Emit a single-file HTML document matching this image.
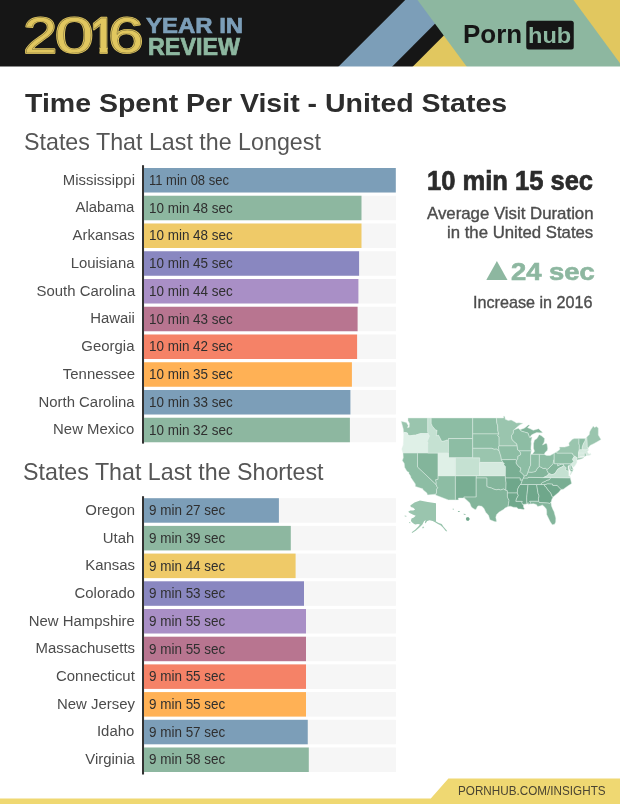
<!DOCTYPE html>
<html lang="en"><head><meta charset="utf-8"><title>Time Spent Per Visit - United States</title>
<style>
html,body{margin:0;padding:0;background:#fff;}
body{width:620px;height:804px;position:relative;overflow:hidden;font-family:"Liberation Sans",sans-serif;}
#bg{position:absolute;left:0;top:0;}
.t{position:absolute;white-space:nowrap;line-height:1;transform-origin:0 0;}
.lab{position:absolute;right:485.30px;line-height:1;font-size:15.3px;color:#4c4c4c;white-space:nowrap;text-align:right;transform-origin:100% 0;transform:scaleX(0.9750);}
.val{position:absolute;left:148.55px;line-height:1;font-size:14.2px;color:#2f2f2f;white-space:nowrap;transform-origin:0 0;transform:scaleX(0.9483);}
</style></head><body>
<svg id="bg" width="620" height="804" viewBox="0 0 620 804" >
<rect x="0" y="0" width="620" height="70" fill="#161616"/>
<polygon points="405.2,0 458.6,0 388.8,70 335.1,70" fill="#7c9eb8"/>
<polygon points="409.4,70 444.8,34.6 480,34.6 480,70" fill="#e1c75f"/>
<rect x="565" y="0" width="55" height="70" fill="#e1c75f"/>
<polygon points="417.5,0 573.5,0 620,63.2 620,70 469.2,70" fill="#8db7a0"/>
<rect x="0" y="66.5" width="620" height="5" fill="#fff"/>
<rect x="526.25" y="20.75" width="47.5" height="28.75" rx="2.5" fill="#161616"/>
<clipPath id="c1"><polygon points="0,-40 19.81,-40 19.81,1.10 10.19,1.10 10.19,-7.5 0,-7.5"/></clipPath>
<g font-family="Liberation Sans, sans-serif" font-size="50.0" fill="#e1c75f" stroke="#e1c75f" stroke-width="2.2" stroke-linejoin="round"><text transform="translate(23.25,53.00) scale(1.2217,1)" font-weight="normal" vector-effect="non-scaling-stroke">2</text><text transform="translate(54.69,53.00) scale(1.4042,1)" font-weight="normal" vector-effect="non-scaling-stroke">0</text><text transform="translate(91.06,53.00) scale(0.8400,1)" font-weight="bold" vector-effect="non-scaling-stroke" clip-path="url(#c1)">1</text><text transform="translate(108.23,53.00) scale(1.2696,1)" font-weight="normal" vector-effect="non-scaling-stroke">6</text></g>
<g font-family="Liberation Sans, sans-serif" font-size="50.0" fill="none" stroke="#161616" stroke-width="0.45" stroke-opacity="0.55" aria-hidden="true"><text transform="translate(23.25,53.00) scale(1.2217,1)" font-weight="normal" vector-effect="non-scaling-stroke">2</text><text transform="translate(54.69,53.00) scale(1.4042,1)" font-weight="normal" vector-effect="non-scaling-stroke">0</text><text transform="translate(91.06,53.00) scale(0.8400,1)" font-weight="bold" vector-effect="non-scaling-stroke" clip-path="url(#c1)">1</text><text transform="translate(108.23,53.00) scale(1.2696,1)" font-weight="normal" vector-effect="non-scaling-stroke">6</text></g>
<rect x="142" y="165.2" width="2.05" height="278.4" fill="#333"/>
<rect x="142" y="496.2" width="2.05" height="278.3" fill="#333"/>
<rect x="144.0" y="168.00" width="251.90" height="24.5" fill="#f6f6f6"/>
<rect x="144.0" y="168.00" width="251.80" height="24.5" fill="#7c9eb8"/>
<rect x="144.0" y="195.75" width="251.90" height="24.5" fill="#f6f6f6"/>
<rect x="144.0" y="195.75" width="217.50" height="24.5" fill="#8db7a0"/>
<rect x="144.0" y="223.50" width="251.90" height="24.5" fill="#f6f6f6"/>
<rect x="144.0" y="223.50" width="217.50" height="24.5" fill="#efca68"/>
<rect x="144.0" y="251.25" width="251.90" height="24.5" fill="#f6f6f6"/>
<rect x="144.0" y="251.25" width="215.10" height="24.5" fill="#8987c0"/>
<rect x="144.0" y="279.00" width="251.90" height="24.5" fill="#f6f6f6"/>
<rect x="144.0" y="279.00" width="214.40" height="24.5" fill="#a98fc6"/>
<rect x="144.0" y="306.75" width="251.90" height="24.5" fill="#f6f6f6"/>
<rect x="144.0" y="306.75" width="213.60" height="24.5" fill="#b87590"/>
<rect x="144.0" y="334.50" width="251.90" height="24.5" fill="#f6f6f6"/>
<rect x="144.0" y="334.50" width="213.10" height="24.5" fill="#f58267"/>
<rect x="144.0" y="362.25" width="251.90" height="24.5" fill="#f6f6f6"/>
<rect x="144.0" y="362.25" width="207.90" height="24.5" fill="#ffb155"/>
<rect x="144.0" y="390.00" width="251.90" height="24.5" fill="#f6f6f6"/>
<rect x="144.0" y="390.00" width="206.40" height="24.5" fill="#7c9eb8"/>
<rect x="144.0" y="417.75" width="251.90" height="24.5" fill="#f6f6f6"/>
<rect x="144.0" y="417.75" width="205.90" height="24.5" fill="#8db7a0"/>
<rect x="144.0" y="498.20" width="251.90" height="24.5" fill="#f6f6f6"/>
<rect x="144.0" y="498.20" width="134.90" height="24.5" fill="#7c9eb8"/>
<rect x="144.0" y="525.90" width="251.90" height="24.5" fill="#f6f6f6"/>
<rect x="144.0" y="525.90" width="146.80" height="24.5" fill="#8db7a0"/>
<rect x="144.0" y="553.60" width="251.90" height="24.5" fill="#f6f6f6"/>
<rect x="144.0" y="553.60" width="151.60" height="24.5" fill="#efca68"/>
<rect x="144.0" y="581.30" width="251.90" height="24.5" fill="#f6f6f6"/>
<rect x="144.0" y="581.30" width="160.00" height="24.5" fill="#8987c0"/>
<rect x="144.0" y="609.00" width="251.90" height="24.5" fill="#f6f6f6"/>
<rect x="144.0" y="609.00" width="162.00" height="24.5" fill="#a98fc6"/>
<rect x="144.0" y="636.70" width="251.90" height="24.5" fill="#f6f6f6"/>
<rect x="144.0" y="636.70" width="162.00" height="24.5" fill="#b87590"/>
<rect x="144.0" y="664.40" width="251.90" height="24.5" fill="#f6f6f6"/>
<rect x="144.0" y="664.40" width="162.00" height="24.5" fill="#f58267"/>
<rect x="144.0" y="692.10" width="251.90" height="24.5" fill="#f6f6f6"/>
<rect x="144.0" y="692.10" width="162.00" height="24.5" fill="#ffb155"/>
<rect x="144.0" y="719.80" width="251.90" height="24.5" fill="#f6f6f6"/>
<rect x="144.0" y="719.80" width="163.75" height="24.5" fill="#7c9eb8"/>
<rect x="144.0" y="747.50" width="251.90" height="24.5" fill="#f6f6f6"/>
<rect x="144.0" y="747.50" width="164.80" height="24.5" fill="#8db7a0"/>
<polygon points="486.3,280 496.9,260.9 507.5,280" fill="#8db7a0"/>
<polygon points="0,798.5 430.8,798.5 448.4,778.6 620,778.6 620,804 0,804" fill="#efd872"/>
<g stroke="#e4f1ea" stroke-width="0.45" stroke-linejoin="round">
<path d="M403.5,432.3L403.3,429.0L401.2,421.3L406.4,422.5L408.2,425.4L407.5,427.7L409.2,427.2L409.4,423.3L408.0,420.7L408.0,418.0L427.8,418.0L427.8,431.4L428.2,433.6L421.0,433.6L418.9,434.0L415.8,435.1L413.4,435.3L409.9,435.8L408.0,435.3L407.5,433.1L405.7,432.6Z" fill="#9ac5ae"/>
<path d="M403.5,432.3L405.7,432.6L407.5,433.1L408.0,435.3L409.9,435.8L413.4,435.3L415.8,435.1L418.9,434.0L421.0,433.6L428.2,433.6L429.5,436.1L428.4,438.8L427.1,441.8L428.1,442.5L427.8,444.2L427.8,453.1L403.0,453.1L401.8,449.1L403.3,445.0L403.5,440.6L403.8,434.1Z" fill="#dff0e7"/>
<path d="M403.0,453.1L417.5,453.1L417.5,466.9L436.1,484.5L437.1,486.9L437.8,487.7L436.6,489.2L436.5,493.0L435.8,494.2L427.5,494.9L426.9,493.0L423.0,489.8L422.7,488.7L420.3,488.1L415.4,486.4L415.3,483.9L410.9,477.6L410.6,476.1L408.9,473.6L408.9,472.3L407.1,471.4L404.7,467.4L404.2,463.3L402.3,460.6L403.3,457.8Z" fill="#8dbda4"/>
<path d="M417.5,453.1L438.1,453.1L438.1,479.3L435.7,479.8L436.2,482.4L436.1,484.5L417.5,466.9Z" fill="#83b59b"/>
<path d="M427.8,418.0L431.2,418.0L431.2,423.4L432.4,426.2L435.7,430.0L437.1,430.3L436.4,435.6L438.5,435.1L440.2,438.3L441.7,441.3L444.9,440.8L447.3,439.8L448.5,441.1L448.5,453.1L427.8,453.1L427.8,444.2L428.1,442.5L427.1,441.8L428.4,438.8L429.5,436.1L428.2,433.6L427.8,431.4Z" fill="#c5e1d2"/>
<path d="M431.2,418.0L472.7,418.0L472.7,438.6L448.5,438.6L448.5,441.1L447.3,439.8L444.9,440.8L441.7,441.3L440.2,438.3L438.5,435.1L436.4,435.6L437.1,430.3L435.7,430.0L432.4,426.2L431.2,423.4Z" fill="#8dbda4"/>
<path d="M448.5,438.6L472.7,438.6L472.7,457.8L448.5,457.8Z" fill="#8dbda4"/>
<path d="M438.1,453.1L448.5,453.1L448.5,457.8L455.4,457.8L455.4,475.9L438.1,475.9Z" fill="#dff0e7"/>
<path d="M455.4,457.8L479.7,457.8L479.7,475.9L455.4,475.9Z" fill="#c5e1d2"/>
<path d="M438.1,475.9L455.4,475.9L455.4,499.9L448.4,499.9L435.5,495.1L435.8,494.2L436.5,493.0L436.6,489.2L437.8,487.7L437.1,486.9L436.1,484.5L436.2,482.4L435.7,479.8L438.1,479.3Z" fill="#8dbda4"/>
<path d="M455.4,475.9L476.4,475.9L476.2,478.0L476.2,497.1L463.8,497.1L464.2,498.1L458.4,498.1L458.4,499.9L455.4,499.9Z" fill="#79ae93"/>
<path d="M472.7,418.0L496.4,418.0L496.8,422.8L497.7,425.9L497.8,430.5L498.7,433.9L472.7,433.9Z" fill="#8dbda4"/>
<path d="M472.7,433.9L498.7,433.9L497.7,435.6L499.1,437.1L499.1,445.9L498.5,446.9L499.1,450.7L498.2,450.3L496.5,449.1L494.0,449.3L492.0,448.3L472.7,448.3Z" fill="#8dbda4"/>
<path d="M472.7,448.3L492.0,448.3L494.0,449.3L496.5,449.1L498.2,450.3L499.1,450.7L500.3,454.5L501.0,456.9L501.4,459.7L503.0,462.4L479.7,462.4L479.7,457.8L472.7,457.8Z" fill="#9ac5ae"/>
<path d="M479.7,462.4L503.0,462.4L504.4,463.5L503.7,464.7L505.5,466.5L505.4,475.9L479.7,475.9Z" fill="#d5eadf"/>
<path d="M476.4,475.9L505.4,475.9L505.4,478.0L506.1,482.8L505.9,490.3L503.4,489.0L500.6,490.0L498.5,489.4L496.5,489.8L493.9,489.2L491.6,488.1L489.5,487.5L487.8,487.1L486.8,486.4L486.8,478.0L476.2,478.0Z" fill="#83b59b"/>
<path d="M476.2,478.0L486.8,478.0L486.8,486.4L487.8,487.1L489.5,487.5L491.6,488.1L493.9,489.2L496.5,489.8L498.5,489.4L500.6,490.0L503.4,489.0L505.9,490.3L507.4,490.7L507.4,493.0L507.4,497.1L509.1,500.4L508.6,503.3L508.1,506.5L505.1,508.0L503.4,509.6L499.2,512.0L496.6,514.5L495.8,517.3L496.6,521.4L495.1,521.8L492.6,520.8L489.9,519.7L488.5,515.3L485.7,512.2L484.0,508.6L481.9,506.3L478.8,505.8L477.4,506.5L476.0,509.4L475.0,509.4L472.9,508.2L471.2,506.8L469.8,502.9L464.6,498.2L463.8,497.1L476.2,497.1Z" fill="#83b59b"/>
<path d="M496.4,418.0L503.6,418.0L503.6,416.0L504.8,416.4L505.3,419.3L508.2,420.4L511.2,420.0L514.5,421.7L516.5,423.0L518.8,422.8L523.1,423.3L519.7,424.9L516.9,427.2L514.1,429.8L513.4,430.3L513.4,433.1L511.5,435.6L511.9,439.1L513.4,441.1L516.9,444.0L517.2,445.9L499.1,445.9L499.1,437.1L497.7,435.6L498.7,433.9L497.8,430.5L497.7,425.9L496.8,422.8Z" fill="#9ac5ae"/>
<path d="M499.1,445.9L517.2,445.9L517.6,449.8L519.2,450.7L520.7,453.1L520.4,455.0L517.8,456.4L517.9,458.3L516.5,460.7L515.3,459.6L501.4,459.7L501.0,456.9L500.3,454.5L499.1,450.7L498.5,446.9Z" fill="#8dbda4"/>
<path d="M501.4,459.7L515.3,459.6L516.5,460.7L516.2,462.4L516.5,463.8L519.0,466.9L520.7,467.8L520.7,469.6L520.0,471.4L523.1,474.5L524.3,475.9L523.5,478.0L522.4,480.2L520.1,480.2L520.1,478.0L505.4,478.0L505.4,475.9L505.5,466.5L503.7,464.7L504.4,463.5L503.0,462.4Z" fill="#79ae93"/>
<path d="M505.4,478.0L520.1,478.0L520.1,480.2L522.4,480.2L521.0,484.1L520.4,484.5L519.3,485.8L517.6,489.2L517.3,493.0L507.4,493.0L507.4,490.7L505.9,490.3L506.1,482.8Z" fill="#6fa78b"/>
<path d="M507.4,493.0L517.3,493.0L518.3,495.5L516.5,498.8L515.9,501.3L522.3,501.3L521.9,502.7L522.8,504.5L523.5,505.1L523.5,507.0L524.5,509.0L523.5,509.6L520.7,509.0L518.3,509.0L516.9,507.4L513.4,507.2L510.3,506.2L508.1,506.5L508.6,503.3L509.1,500.4L507.4,497.1Z" fill="#6fa78b"/>
<path d="M517.3,493.0L517.6,489.2L519.3,485.8L520.4,484.5L527.6,484.5L528.0,485.0L526.7,497.6L526.9,503.9L522.8,504.5L521.9,502.7L522.3,501.3L515.9,501.3L516.5,498.8L518.3,495.5Z" fill="#6fa78b"/>
<path d="M527.6,484.5L536.6,484.5L538.1,493.5L539.1,495.9L538.4,498.8L538.7,501.3L529.7,501.3L530.4,502.5L530.0,504.1L528.3,504.3L528.0,502.5L527.6,503.9L526.9,503.9L526.7,497.6L528.0,485.0Z" fill="#6fa78b"/>
<path d="M536.6,484.5L545.3,484.5L544.4,485.8L546.0,486.9L548.4,490.5L550.8,493.0L552.2,496.7L553.1,497.0L551.9,499.2L551.0,502.4L549.1,503.7L548.4,503.1L539.2,502.5L538.7,501.3L538.4,498.8L539.1,495.9L538.1,493.5Z" fill="#6fa78b"/>
<path d="M530.0,504.1L530.4,502.5L529.7,501.3L538.7,501.3L539.2,502.5L548.4,503.1L549.1,503.7L551.0,502.4L551.5,506.1L552.9,509.4L554.1,511.8L555.0,515.3L555.8,518.1L555.7,522.0L554.6,524.3L552.2,524.7L550.1,521.6L548.4,518.1L546.7,514.5L546.7,511.4L546.3,509.0L544.2,506.5L542.2,504.9L540.8,505.7L537.7,506.5L536.3,504.5L533.5,503.7Z" fill="#83b59b"/>
<path d="M553.1,497.0L552.2,496.7L550.8,493.0L548.4,490.5L546.0,486.9L544.4,485.8L545.3,484.5L547.7,483.7L552.4,483.9L552.9,485.4L557.2,485.4L561.0,489.4L558.8,492.2L556.4,494.2Z" fill="#6fa78b"/>
<path d="M541.1,484.6L541.1,483.7L542.5,482.4L545.3,481.3L547.0,480.2L549.1,479.8L550.1,478.7L550.2,477.6L570.3,477.8L571.6,483.5L568.1,485.8L563.3,489.2L561.0,489.4L557.2,485.4L552.9,485.4L552.4,483.9L547.7,483.7L545.3,484.5Z" fill="#79ae93"/>
<path d="M522.4,480.2L523.5,478.0L528.1,478.0L528.1,477.3L543.3,477.6L550.2,477.6L550.1,478.7L549.1,479.8L547.0,480.2L545.3,481.3L542.5,482.4L541.1,483.7L541.1,484.6L536.6,484.5L527.6,484.5L520.4,484.5L521.0,484.1Z" fill="#79ae93"/>
<path d="M523.5,478.0L524.3,475.9L526.6,475.4L528.0,471.9L531.4,472.3L533.5,471.9L535.6,471.4L537.3,468.3L539.3,466.5L541.1,467.2L543.2,468.5L545.6,468.3L547.0,469.6L547.0,470.5L548.1,472.8L549.2,473.5L546.7,475.9L543.3,477.6L528.1,477.3L528.1,478.0Z" fill="#83b59b"/>
<path d="M519.2,450.7L531.3,450.7L530.7,454.5L530.6,465.4L529.7,466.9L528.7,470.1L528.0,471.9L526.6,475.4L524.3,475.9L523.1,474.5L520.0,471.4L520.7,469.6L520.7,467.8L519.0,466.9L516.5,463.8L516.2,462.4L516.5,460.7L517.9,458.3L517.8,456.4L520.4,455.0L520.7,453.1Z" fill="#8dbda4"/>
<path d="M530.7,454.5L532.4,454.2L539.4,454.2L539.3,466.5L537.3,468.3L535.6,471.4L533.5,471.9L531.4,472.3L528.0,471.9L528.7,470.1L529.7,466.9L530.6,465.4Z" fill="#8dbda4"/>
<path d="M539.4,454.2L544.1,454.4L546.7,455.5L550.1,455.5L554.2,453.2L554.2,459.5L553.8,459.9L553.1,463.8L550.1,466.9L548.4,468.7L547.0,469.6L545.6,468.3L543.2,468.5L541.1,467.2L539.3,466.5Z" fill="#8dbda4"/>
<path d="M532.4,454.2L539.4,454.2L544.1,454.4L545.3,452.2L547.4,450.3L547.7,448.3L547.0,444.0L546.0,443.3L542.5,445.0L544.2,442.0L544.6,438.6L541.8,436.1L539.6,434.7L538.7,435.6L537.0,438.6L534.5,440.1L533.5,443.5L533.5,448.3L534.5,451.2ZM520.0,429.7L524.2,428.2L526.2,426.7L528.3,424.9L529.7,425.1L527.6,427.7L529.7,428.5L533.2,430.3L538.7,428.7L540.1,430.3L541.8,431.6L542.5,432.8L539.7,432.8L536.6,432.6L533.2,434.1L531.4,435.1L529.7,437.6L529.0,436.1L528.0,433.1L524.5,432.1L521.0,431.0Z" fill="#83b59b"/>
<path d="M514.1,429.8L518.3,428.2L520.0,429.7L521.0,431.0L524.5,432.1L528.0,433.1L529.0,436.1L529.7,437.6L532.1,437.1L531.1,441.6L531.3,443.5L530.9,448.3L531.3,450.7L519.2,450.7L517.6,449.8L517.2,445.9L516.9,444.0L513.4,441.1L511.9,439.1L511.5,435.6L513.4,433.1L513.4,430.3Z" fill="#8dbda4"/>
<path d="M547.0,469.6L548.4,468.7L550.1,466.9L553.1,463.8L553.8,459.9L554.2,459.5L554.2,463.7L557.8,463.7L557.8,466.0L559.8,464.7L561.6,464.1L563.3,464.2L563.9,465.5L561.9,466.9L559.9,467.8L557.7,469.2L555.0,473.6L551.9,474.8L549.2,473.5L548.1,472.8L547.0,470.5Z" fill="#83b59b"/>
<path d="M543.3,477.6L550.2,477.6L570.3,477.8L569.9,476.1L568.8,475.9L568.8,473.2L568.7,471.2L566.8,470.5L565.5,469.9L566.3,467.8L564.7,466.5L563.9,465.5L561.9,466.9L559.9,467.8L557.7,469.2L555.0,473.6L551.9,474.8L549.2,473.5L546.7,475.9ZM571.1,471.7L572.6,471.3L570.2,475.2L569.9,474.5Z" fill="#c5e1d2"/>
<path d="M557.8,463.7L570.6,463.7L570.9,469.4L573.2,469.4L572.6,471.3L571.1,471.7L570.2,470.5L569.2,468.3L569.5,465.1L568.1,466.0L568.1,468.3L568.7,471.2L566.8,470.5L565.5,469.9L566.3,467.8L564.7,466.5L563.9,465.5L563.3,464.2L561.6,464.1L559.8,464.7L557.8,466.0Z" fill="#8dbda4"/>
<path d="M570.6,463.7L571.9,463.3L571.4,464.9L573.2,469.4L570.9,469.4Z" fill="#8dbda4"/>
<path d="M554.2,453.2L556.8,451.8L556.8,453.1L572.1,453.1L573.2,455.0L574.4,456.1L573.0,458.3L572.6,459.6L574.0,461.7L571.9,463.3L570.6,463.7L554.2,463.7Z" fill="#8dbda4"/>
<path d="M556.8,453.1L556.8,451.8L559.5,449.8L559.8,448.3L559.3,447.1L564.7,447.1L569.2,445.7L568.8,443.0L572.3,439.3L574.4,438.6L579.0,438.6L578.9,443.5L579.4,445.5L579.3,449.5L578.5,452.9L578.6,456.9L578.0,457.8L583.7,457.3L584.1,457.6L582.0,458.7L577.1,459.9L576.6,459.6L577.1,457.8L574.4,456.1L573.2,455.0L572.1,453.1Z" fill="#9ac5ae"/>
<path d="M574.4,456.1L577.1,457.8L576.6,459.6L576.8,460.6L576.8,462.4L575.4,465.1L573.5,467.3L571.6,464.9L571.9,463.3L574.0,461.7L572.6,459.6L573.0,458.3Z" fill="#d5eadf"/>
<path d="M578.5,452.9L584.4,453.0L584.4,456.4L580.6,456.6L578.0,457.8L578.6,456.9Z" fill="#d5eadf"/>
<path d="M584.4,453.0L585.9,453.0L586.5,455.5L585.8,455.9L584.4,456.4Z" fill="#9ac5ae"/>
<path d="M578.5,452.9L579.3,449.5L582.2,449.6L586.1,449.8L587.9,449.0L588.6,450.0L587.2,451.7L588.2,453.3L588.9,454.1L590.6,454.1L590.0,452.8L590.8,454.8L588.6,455.5L586.8,455.5L586.5,455.5L585.9,453.0L584.4,453.0Z" fill="#d5eadf"/>
<path d="M579.0,438.6L585.5,438.6L585.1,441.1L583.5,443.5L582.3,446.9L582.2,449.6L579.3,449.5L579.4,445.5L578.9,443.5Z" fill="#8dbda4"/>
<path d="M585.5,438.6L586.8,437.1L587.1,441.1L587.3,446.9L588.2,448.0L587.9,449.0L586.1,449.8L582.2,449.6L582.3,446.9L583.5,443.5L585.1,441.1Z" fill="#c5e1d2"/>
<path d="M586.8,437.1L589.3,434.6L589.6,432.1L590.6,430.0L593.3,426.1L594.5,427.5L596.5,426.6L598.3,428.1L598.3,435.1L599.5,437.1L601.0,439.6L597.6,441.6L594.1,443.5L590.0,445.5L588.2,448.0L587.3,446.9L587.1,441.1Z" fill="#9ac5ae"/>
<path d="M410.3,505.6L414.5,502.5L420.0,500.4L427.8,502.0L436.0,503.2L436.0,521.4L438.7,523.1L441.7,524.0L443.5,526.7L446.6,530.3L447.2,531.5L445.7,531.0L442.9,527.4L440.5,525.2L437.5,523.8L435.1,522.2L432.7,521.0L429.6,520.2L427.2,521.0L425.4,523.4L424.8,521.9L426.0,520.2L424.2,521.0L422.4,524.6L419.4,527.4L415.7,530.7L412.1,532.9L411.7,532.3L415.1,529.8L418.1,526.7L420.0,524.6L418.1,524.0L415.1,524.6L412.7,523.1L410.9,521.0L411.5,518.6L413.9,517.4L415.7,515.8L412.7,514.4L409.7,513.1L408.2,511.7L410.3,510.5L413.3,510.5L415.1,509.5L413.3,507.7L410.9,506.9Z" fill="#9ac5ae" stroke="none"/>
<path d="M404.6,515.6L406.3,515.8L406.5,516.8L404.8,516.5ZM409.0,522.1L410.3,522.2L410.4,523.2L409.1,523.1ZM422.1,527.1L423.6,526.5L424.2,527.7L422.7,528.5Z" fill="#9ac5ae" stroke="none" opacity="0.8"/>
<g stroke="none"><path d="M466.3,517.4L468.3,517.1L469.9,519.0L468.3,521.0L466.5,520.6L465.9,519.0Z" fill="#6fa78b"/><path d="M463.5,513.7L465.3,514.0L465.7,515.0L463.9,514.7ZM457.8,511.0L459.5,511.1L459.9,512.1L458.1,511.9ZM452.6,508.7L453.9,508.8L454.1,509.6L452.7,509.5Z" fill="#83b59b" opacity="0.85"/></g>
</g>
</svg>
<div class="t" style="left:145.54px;top:14.60px;font-size:22.6px;font-weight:bold;-webkit-text-stroke:0.7px #7c9eb8;color:#7c9eb8;transform:scaleX(1.0596)">YEAR IN</div>
<div class="t" style="left:148.37px;top:36.20px;font-size:23.0px;font-weight:bold;-webkit-text-stroke:0.7px #8db7a0;color:#8db7a0;transform:scaleX(1.0136)">REVIEW</div>
<div class="t" style="left:463.46px;top:22.00px;font-size:25.5px;font-weight:bold;color:#161616;transform:scaleX(1.0185)">Porn</div>
<div class="t" style="left:528.39px;top:25.00px;font-size:22.4px;font-weight:bold;color:#8db7a0;transform:scaleX(1.0526)">hub</div>
<div class="t" style="left:24.50px;top:89.75px;font-size:26.5px;font-weight:bold;color:#2d2d2d;transform:scaleX(1.0758)">Time Spent Per Visit - United States</div>
<div class="t" style="left:23.50px;top:131.20px;font-size:23.2px;color:#565656;transform:scaleX(1.0027)">States That Last the Longest</div>
<div class="t" style="left:23.21px;top:461.30px;font-size:23.4px;color:#565656;transform:scaleX(0.9935)">States That Last the Shortest</div>
<div class="t" style="left:427.17px;top:167.30px;font-size:27.6px;font-weight:bold;-webkit-text-stroke:0.7px #2b2b2b;color:#2b2b2b;transform:scaleX(0.9253)">10 min 15 sec</div>
<div class="t" style="left:426.60px;top:206.10px;font-size:15.7px;-webkit-text-stroke:0.35px #4d4d4d;color:#4d4d4d;transform:scaleX(1.0710)">Average Visit Duration</div>
<div class="t" style="left:447.33px;top:225.40px;font-size:15.7px;-webkit-text-stroke:0.35px #4d4d4d;color:#4d4d4d;transform:scaleX(1.0681)">in the United States</div>
<div class="t" style="left:510.63px;top:260.80px;font-size:23.4px;font-weight:bold;-webkit-text-stroke:0.6px #8db7a0;color:#8db7a0;transform:scaleX(1.1710)">24 sec</div>
<div class="t" style="left:473.28px;top:295.00px;font-size:15.9px;-webkit-text-stroke:0.35px #4d4d4d;color:#4d4d4d;transform:scaleX(1.0164)">Increase in 2016</div>
<div class="t" style="left:457.82px;top:783.60px;font-size:13.3px;color:#4a4432;transform:scaleX(0.8801)">PORNHUB.COM/INSIGHTS</div>
<div class="lab" style="top:171.60px">Mississippi</div>
<div class="val" style="top:172.95px;transform:scaleX(0.9157)">11 min 08 sec</div>
<div class="lab" style="top:199.35px">Alabama</div>
<div class="val" style="top:200.70px">10 min 48 sec</div>
<div class="lab" style="top:227.10px">Arkansas</div>
<div class="val" style="top:228.45px">10 min 48 sec</div>
<div class="lab" style="top:254.85px">Louisiana</div>
<div class="val" style="top:256.20px">10 min 45 sec</div>
<div class="lab" style="top:282.60px">South Carolina</div>
<div class="val" style="top:283.95px">10 min 44 sec</div>
<div class="lab" style="top:310.35px">Hawaii</div>
<div class="val" style="top:311.70px">10 min 43 sec</div>
<div class="lab" style="top:338.10px">Georgia</div>
<div class="val" style="top:339.45px">10 min 42 sec</div>
<div class="lab" style="top:365.85px">Tennessee</div>
<div class="val" style="top:367.20px">10 min 35 sec</div>
<div class="lab" style="top:393.60px">North Carolina</div>
<div class="val" style="top:394.95px">10 min 33 sec</div>
<div class="lab" style="top:421.35px">New Mexico</div>
<div class="val" style="top:422.70px">10 min 32 sec</div>
<div class="lab" style="top:501.80px">Oregon</div>
<div class="val" style="top:503.15px">9 min 27 sec</div>
<div class="lab" style="top:529.50px">Utah</div>
<div class="val" style="top:530.85px">9 min 39 sec</div>
<div class="lab" style="top:557.20px">Kansas</div>
<div class="val" style="top:558.55px">9 min 44 sec</div>
<div class="lab" style="top:584.90px">Colorado</div>
<div class="val" style="top:586.25px">9 min 53 sec</div>
<div class="lab" style="top:612.60px">New Hampshire</div>
<div class="val" style="top:613.95px">9 min 55 sec</div>
<div class="lab" style="top:640.30px">Massachusetts</div>
<div class="val" style="top:641.65px">9 min 55 sec</div>
<div class="lab" style="top:668.00px">Connecticut</div>
<div class="val" style="top:669.35px">9 min 55 sec</div>
<div class="lab" style="top:695.70px">New Jersey</div>
<div class="val" style="top:697.05px">9 min 55 sec</div>
<div class="lab" style="top:723.40px">Idaho</div>
<div class="val" style="top:724.75px">9 min 57 sec</div>
<div class="lab" style="top:751.10px">Virginia</div>
<div class="val" style="top:752.45px">9 min 58 sec</div>
</body></html>
